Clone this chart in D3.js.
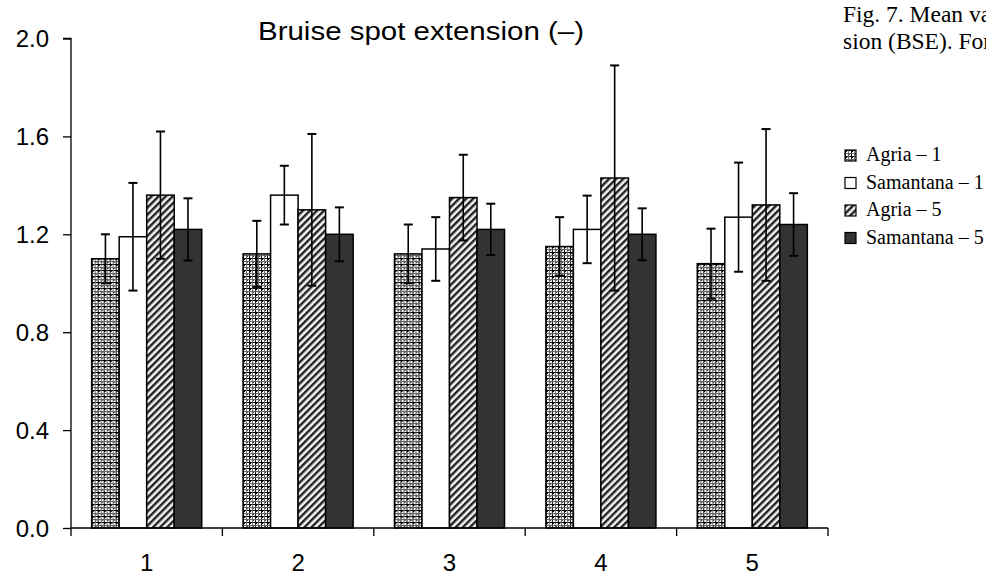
<!DOCTYPE html>
<html>
<head>
<meta charset="utf-8">
<script src="https://cdn.jsdelivr.net/npm/d3@7"></script>
<style>
html, body { margin: 0; padding: 0; background: #fff; overflow: hidden; }
svg { display: block; overflow: hidden; }
</style>
</head>
<body>
<div id="chart"></div>
<script>
// ---- data ----
const categories = ["1", "2", "3", "4", "5"];
const seriesNames = ["Agria – 1", "Samantana – 1", "Agria – 5", "Samantana – 5"];
const agria1 = [1.10, 1.12, 1.12, 1.15, 1.08];
const samantana1 = [1.19, 1.36, 1.14, 1.22, 1.27];
const agria5 = [1.36, 1.30, 1.35, 1.43, 1.32];
const samantana5 = [1.22, 1.20, 1.22, 1.20, 1.24];
const agria1Err = [0.10, 0.135, 0.12, 0.12, 0.143];
const samantana1Err = [0.22, 0.12, 0.13, 0.138, 0.223];
const agria5Err = [0.26, 0.31, 0.175, 0.46, 0.31];
const samantana5Err = [0.127, 0.11, 0.105, 0.106, 0.128];
const yTicks = [0, 0.4, 0.8, 1.2, 1.6, 2.0];
const titleText = "Bruise spot extension (–)";
const captionLines = ["Fig. 7. Mean values of bruise spot exten-", "sion (BSE). For explanation see Fig. 6."];

const values = [agria1, samantana1, agria5, samantana5];
const errors = [agria1Err, samantana1Err, agria5Err, samantana5Err];

// ---- layout ----
const W = 986, H = 575;
const svg = d3.select("#chart").append("svg").attr("width", W).attr("height", H);

const x0 = d3.scaleBand().domain(categories).range([71, 828]).paddingInner(0).paddingOuter(0);
const groupFrac = 0.727;
const x1 = d3.scaleBand().domain(seriesNames).range([0, x0.bandwidth() * groupFrac]).padding(0);
const groupOffset = x0.bandwidth() * (1 - groupFrac) / 2;
const y = d3.scaleLinear().domain([0, 2.0]).range([528, 38.5]);

// ---- patterns ----
const defs = svg.append("defs");
const p1 = defs.append("pattern").attr("id", "pat-agria1").attr("patternUnits", "userSpaceOnUse")
  .attr("width", 6).attr("height", 6);
p1.append("rect").attr("width", 6).attr("height", 6).attr("fill", "#fff");
p1.append("rect").attr("x", 0).attr("y", 0).attr("width", 1).attr("height", 6).attr("fill", "#000");
p1.append("rect").attr("x", 0).attr("y", 0).attr("width", 6).attr("height", 1).attr("fill", "#000");
p1.append("rect").attr("x", 3).attr("y", 0).attr("width", 1).attr("height", 6).attr("fill", "#666");
p1.append("rect").attr("x", 0).attr("y", 3).attr("width", 6).attr("height", 1).attr("fill", "#666");
p1.append("rect").attr("x", 0).attr("y", 0).attr("width", 2).attr("height", 2).attr("fill", "#000");
p1.append("rect").attr("x", 4).attr("y", 4).attr("width", 1).attr("height", 1).attr("fill", "#444");

const p3 = defs.append("pattern").attr("id", "pat-agria5").attr("patternUnits", "userSpaceOnUse")
  .attr("width", 5).attr("height", 5).attr("patternTransform", "rotate(45)");
p3.append("rect").attr("width", 5).attr("height", 5).attr("fill", "#f4f4f4");
p3.append("rect").attr("x", 0).attr("y", 0).attr("width", 2).attr("height", 5).attr("fill", "#222");
p3.append("rect").attr("x", 2).attr("y", 0).attr("width", 1).attr("height", 5).attr("fill", "#999");

const fills = ["url(#pat-agria1)", "#ffffff", "url(#pat-agria5)", "#333333"];

// ---- bars ----
const groups = svg.append("g").selectAll("g").data(categories).join("g")
  .attr("transform", d => `translate(${x0(d) + groupOffset},0)`);

groups.each(function(cat, ci) {
  const g = d3.select(this);
  seriesNames.forEach((s, si) => {
    const v = values[si][ci];
    g.append("rect")
      .attr("x", x1(s)).attr("y", y(v))
      .attr("width", x1.bandwidth()).attr("height", y(0) - y(v))
      .attr("fill", fills[si]).attr("stroke", "#000").attr("stroke-width", 1.5);
  });
});

// ---- error bars ----
groups.each(function(cat, ci) {
  const g = d3.select(this);
  seriesNames.forEach((s, si) => {
    const v = values[si][ci], e = errors[si][ci];
    const cx = x1(s) + x1.bandwidth() / 2;
    g.append("line").attr("x1", cx).attr("x2", cx).attr("y1", y(v + e)).attr("y2", y(v - e))
      .attr("stroke", "#000").attr("stroke-width", 1.6);
    [v + e, v - e].forEach(t => {
      g.append("line").attr("x1", cx - 4.5).attr("x2", cx + 4.5).attr("y1", y(t)).attr("y2", y(t))
        .attr("stroke", "#000").attr("stroke-width", 2);
    });
  });
});

// ---- axes ----
const yAxis = d3.axisLeft(y).tickValues(yTicks).tickFormat(d3.format(".1f")).tickSize(8).tickPadding(14);
const ya = svg.append("g").attr("transform", "translate(71,0)").call(yAxis);
ya.select(".domain").attr("d", `M-8,${y(2)}H0V${y(0)}`).attr("stroke", "#000").attr("stroke-width", 1.3);
ya.selectAll(".tick line").attr("stroke", "#000").attr("stroke-width", 1.3);
ya.selectAll(".tick text").attr("font-family", "Liberation Sans, Arial, sans-serif")
  .attr("font-size", 24).attr("fill", "#000").attr("dy", "0.35em");

const xAxisLine = svg.append("g");
xAxisLine.append("line").attr("x1", 71).attr("x2", 828).attr("y1", y(0)).attr("y2", y(0))
  .attr("stroke", "#000").attr("stroke-width", 1.3);
const bounds = categories.map(c => x0(c)).concat([x0(categories[categories.length - 1]) + x0.bandwidth()]);
xAxisLine.selectAll("line.tk").data(bounds).join("line").attr("class", "tk")
  .attr("x1", d => d).attr("x2", d => d).attr("y1", y(0)).attr("y2", y(0) + 8)
  .attr("stroke", "#000").attr("stroke-width", 1.3);
xAxisLine.selectAll("text").data(categories).join("text")
  .attr("x", d => x0(d) + x0.bandwidth() / 2).attr("y", 571)
  .attr("text-anchor", "middle").attr("font-family", "Liberation Sans, Arial, sans-serif")
  .attr("font-size", 24).attr("fill", "#000").text(d => d);

// ---- title ----
svg.append("text").attr("x", 258).attr("y", 40)
  .attr("font-family", "Liberation Sans, Arial, sans-serif").attr("font-size", 25)
  .attr("textLength", 326).attr("lengthAdjust", "spacingAndGlyphs")
  .attr("fill", "#000").text(titleText);

// ---- caption (cut at the right edge, as in the reference) ----
svg.append("g").selectAll("text").data(captionLines).join("text")
  .attr("x", 843).attr("y", (d, i) => 22 + i * 27)
  .attr("font-family", "Liberation Serif, Times New Roman, serif").attr("font-size", 23.5)
  .attr("fill", "#000").text(d => d);

// ---- legend ----
const legend = svg.append("g").attr("transform", "translate(845,150)");
const li = legend.selectAll("g").data(seriesNames).join("g")
  .attr("transform", (d, i) => `translate(0,${i * 27.5})`);
li.append("rect").attr("width", 11).attr("height", 11)
  .attr("fill", (d, i) => fills[i]).attr("stroke", "#000").attr("stroke-width", 1.2);
li.append("text").attr("x", 21).attr("y", 11)
  .attr("font-family", "Liberation Serif, Times New Roman, serif").attr("font-size", 20)
  .attr("fill", "#000").text(d => d);
</script>
</body>
</html>
